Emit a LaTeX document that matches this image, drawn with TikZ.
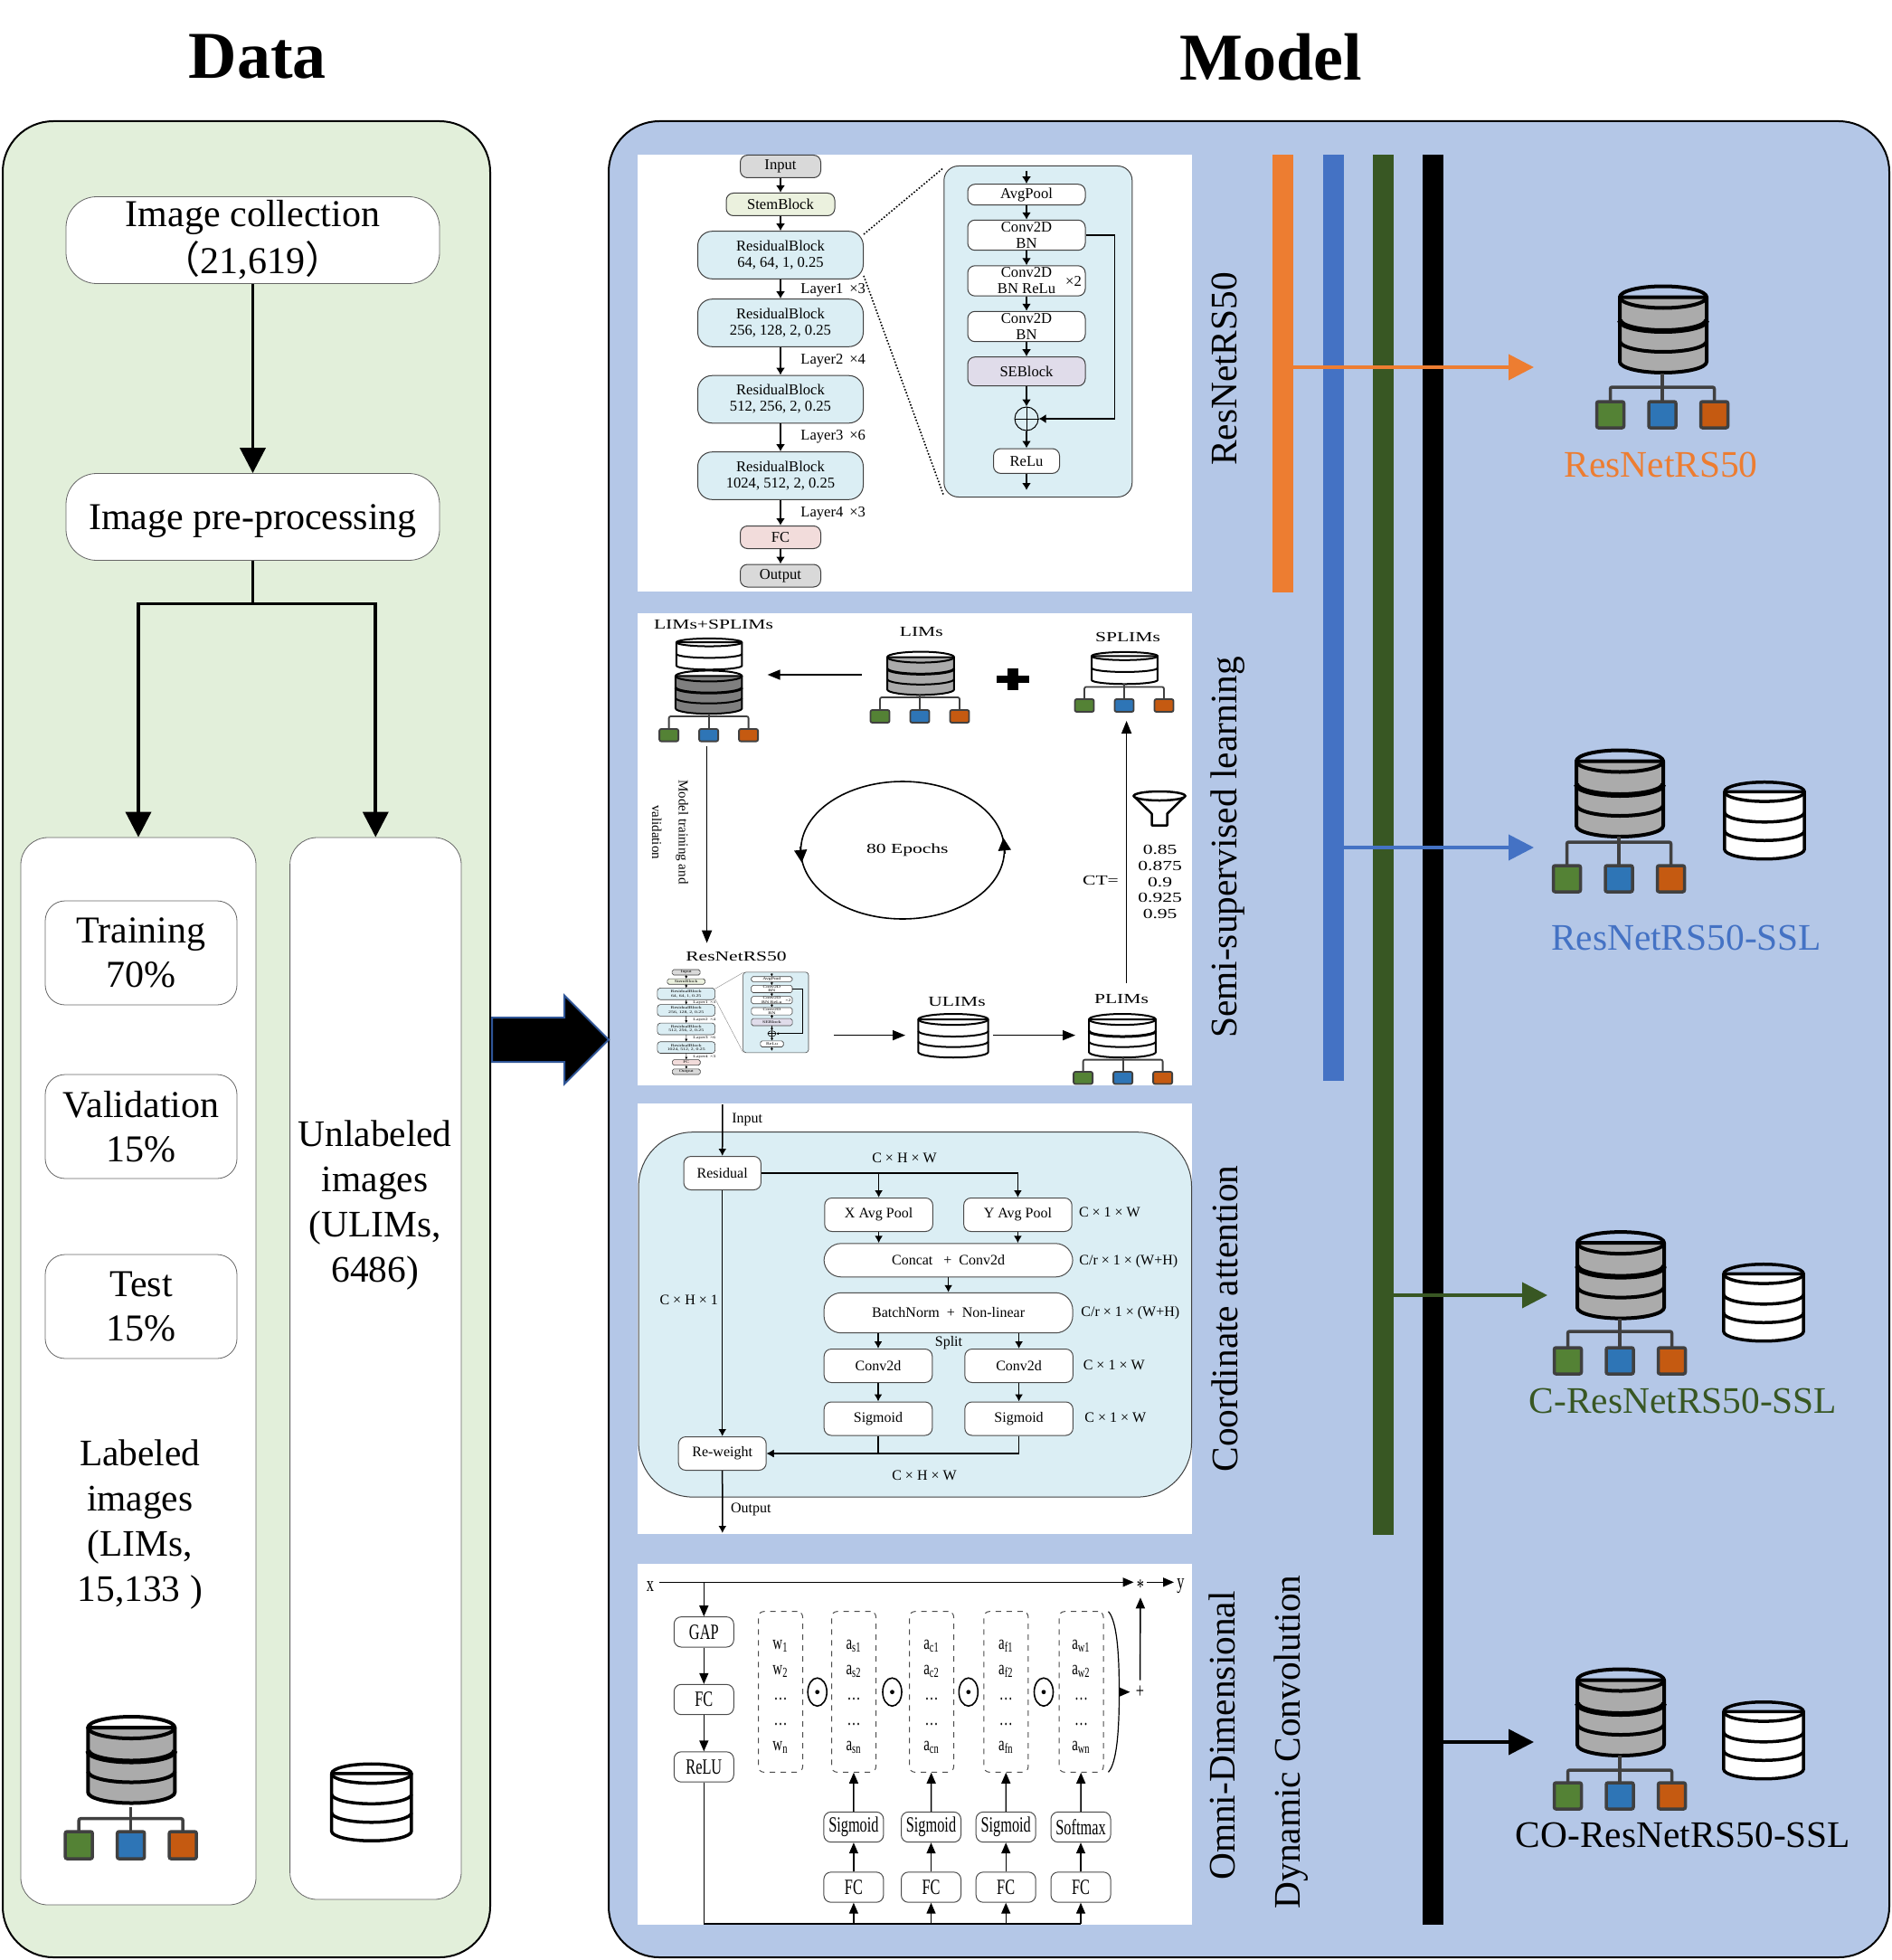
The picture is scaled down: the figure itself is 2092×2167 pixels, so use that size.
\documentclass[tikz,border=0pt]{standalone}
\usepackage{fontspec}
\setmainfont{Liberation Serif}
\newfontfamily\cjk{Noto Sans CJK SC}
\newfontfamily\widefont[FakeStretch=1.4]{Liberation Serif}
\newfontfamily\thinfont[FakeStretch=0.68]{Liberation Serif}
\usetikzlibrary{arrows.meta,positioning,shapes.geometric,shapes.arrows}
\definecolor{datagreen}{HTML}{E2EFDA}
\definecolor{modelblue}{HTML}{B4C7E7}
\definecolor{barorange}{HTML}{ED7D31}
\definecolor{barblue}{HTML}{4472C4}
\definecolor{bargreen}{HTML}{385723}
\definecolor{bigblue}{HTML}{2F5597}
\definecolor{dbgray}{HTML}{ABABAB}
\definecolor{dbdark}{HTML}{7F7F7F}
\definecolor{treegray}{HTML}{404040}
\definecolor{leafgreen}{HTML}{548235}
\definecolor{leafblue}{HTML}{2E75B6}
\definecolor{leaforange}{HTML}{C55A11}
\definecolor{insetblue}{HTML}{DBEEF4}
\definecolor{stemgreen}{HTML}{EBF1DE}
\definecolor{fcpink}{HTML}{F2DCDB}
\definecolor{sepurple}{HTML}{E0DCEA}
\definecolor{blockgray}{HTML}{D9D9D9}

% stacked disks: x, y, xscale, yscale, fill, line width, band/weight list
\newcommand{\dbbody}[7]{%
\begin{scope}[shift={(#1,#2)},xscale=#3,yscale=#4,line width=#6,line join=round]
\draw[fill=#5] (-48,-35.5) -- (-48,36) .. controls (-48,42.6) and (-26.5,48) .. (0,48) .. controls (26.5,48) and (48,42.6) .. (48,36) -- (48,-35.5) -- cycle;
\draw (0,-35.5) ellipse [x radius=48,y radius=12];
\foreach \band/\weight in {#7} {\draw[line width=\weight*#6] (-48,\band) .. controls (-48,\band+6.6) and (-26.5,\band+12) .. (0,\band+12) .. controls (26.5,\band+12) and (48,\band+6.6) .. (48,\band);}
\end{scope}}
% three leaves: x, stem top, bar, leaf top, leaf bottom, spread, leaf half width, line width
\newcommand{\dbtree}[8]{%
\begin{scope}[shift={(#1,0)},line width=#8,draw=treegray]
\draw (0,#2) -- (0,#4);
\draw[rounded corners=1pt] (-#6,#4) -- (-#6,#3) -- (#6,#3) -- (#6,#4);
\draw[fill=leafgreen,rounded corners=1pt] (-#6-#7,#4) rectangle (-#6+#7,#5);
\draw[fill=leafblue,rounded corners=1pt] (-#7,#4) rectangle (#7,#5);
\draw[fill=leaforange,rounded corners=1pt] (#6-#7,#4) rectangle (#6+#7,#5);
\end{scope}}
\newcommand{\bigcorner}{8pt}
\newcommand{\smallcorner}{4pt}
\newcommand{\netline}{0.5pt}
\newcommand{\toprow}{\rule{0pt}{10.5pt}}
% backbone blocks, drawn large in the first box and small in the second
\newcommand{\resnetparts}{%
\node[netbox,fill=blockgray,minimum width=44.5pt,minimum height=12.5pt] (input) at (863,184) {Input};
\node[netbox,fill=stemgreen,minimum width=60pt,minimum height=12.5pt,below=21pt of input] (stem) {StemBlock};
\node[resbox,below=28pt of stem] (resA) {ResidualBlock\\64, 64, 1, 0.25};
\node[resbox,below=37.5pt of resA] (resB) {ResidualBlock\\256, 128, 2, 0.25};
\node[resbox,below=42.25pt of resB] (resC) {ResidualBlock\\512, 256, 2, 0.25};
\node[resbox,below=42.25pt of resC] (resD) {ResidualBlock\\1024, 512, 2, 0.25};
\node[netbox,fill=fcpink,minimum width=44.5pt,minimum height=12.5pt,below=34pt of resD] (fc) {FC};
\node[netbox,fill=blockgray,minimum width=44.5pt,minimum height=12.5pt,below=21.25pt of fc] (output) {Output};
\node[netbox,fill=insetblue,rounded corners=\bigcorner,minimum width=104pt,minimum height=183pt] (inset) at (1147.8,366.5) {};
\node[netbox,fill=white,minimum width=65pt,minimum height=11.5pt] (avgpool) at (1135,215.2) {AvgPool};
\node[netbox,fill=white,minimum width=65pt,minimum height=16.7pt,below=22.4pt of avgpool] (convA) {Conv2D\\BN};
\node[netbox,fill=white,minimum width=65pt,minimum height=16.7pt,below=25.25pt of convA] (convB) {Conv2D\\BN ReLu};
\node[netbox,fill=white,minimum width=65pt,minimum height=16.7pt,below=25.25pt of convB] (convC) {Conv2D\\BN};
\node[netbox,fill=sepurple,minimum width=65pt,minimum height=16pt,below=24.85pt of convC] (seblock) {SEBlock};
\node[draw,circle,line width=\netline,minimum size=13pt,inner sep=0pt,below=26.15pt of seblock] (plus) {};
\node[netbox,fill=white,minimum width=36.5pt,minimum height=13.7pt,below=23.35pt of plus] (relu) {ReLu};
\node[layertext,anchor=west] (layerA) at (885,321) {Layer1 \,×3};
\node[layertext,anchor=west] (layerB) at (885,399) {Layer2 \,×4};
\node[layertext,anchor=west] (layerC) at (885,483) {Layer3 \,×6};
\node[layertext,anchor=west] (layerD) at (885,568) {Layer4 \,×3};
\node[layertext] (times) at (1187,311) {×2};
\coordinate (insettop) at (1135,189);
\coordinate (insetend) at (1135,542);
\draw[flowone] (input) -- (stem);
\draw[flowone] (stem) -- (resA);
\draw[flowone] (resA) -- (resB);
\draw[flowone] (resB) -- (resC);
\draw[flowone] (resC) -- (resD);
\draw[flowone] (resD) -- (fc);
\draw[flowone] (fc) -- (output);
\draw[insetlink] (resA.14) -- (inset.120);
\draw[insetlink] (resA.-14) -- (inset.240);
\draw[flowone] (insettop) -- (avgpool);
\draw[flowone] (avgpool) -- (convA);
\draw[flowone] (convA) -- (convB);
\draw[flowone] (convB) -- (convC);
\draw[flowone] (convC) -- (seblock);
\draw[flowone] (seblock) -- (plus);
\draw[flowone] (plus) -- (relu);
\draw[flowone] (relu) -- (insetend);
\draw[flowone] (convA.east) -- ++(16pt,0) |- (plus.east);
\draw[line width=\netline] (plus.north) -- (plus.south);
\draw[line width=\netline] (plus.west) -- (plus.east);
}

\begin{document}
\begin{tikzpicture}[x=0.5pt,y=-0.5pt,on grid,
panel/.style={draw,line width=1pt,rounded corners=28pt,inner sep=0pt},
sheet/.style={fill=white,inner sep=0pt,minimum width=306.5pt},
title/.style={font=\fontsize{37}{40}\selectfont\bfseries},
stagebox/.style={draw=black!60,fill=white,rounded corners=17pt,align=center,inner sep=0pt,minimum width=206.5pt,minimum height=48pt,font=\fontsize{21}{26}\selectfont},
splitbox/.style={draw=black!60,fill=white,rounded corners=11pt,align=center,inner sep=0pt,minimum width=106pt,minimum height=57.5pt,font=\fontsize{21}{24.5}\selectfont},
groupbox/.style={draw=black!60,fill=white,rounded corners=15pt,inner sep=0pt},
grouptext/.style={align=center,font=\fontsize{20.7}{25}\selectfont},
mainflow/.style={-{Triangle[length=14pt,width=14pt]},line width=1.9pt},
plainflow/.style={line width=1.9pt},
barbox/.style={inner sep=0pt,minimum width=11.5pt},
outname/.style={font=\fontsize{20.7}{24}\selectfont},
sidename/.style={rotate=90,font=\fontsize{20.7}{24}\selectfont},
netbox/.style={draw=black!75,line width=\netline,rounded corners=\smallcorner,align=center,inner sep=0pt,font=\fontsize{8.3}{9}\selectfont},
resbox/.style={netbox,fill=insetblue,rounded corners=\bigcorner,minimum width=91.5pt,minimum height=26.3pt},
layertext/.style={inner sep=0pt,font=\fontsize{8.3}{9}\selectfont},
flowone/.style={-{Latex[length=4pt,width=5pt]},line width=0.9pt},
insetlink/.style={densely dotted,line width=0.8pt},
wide/.style={font=\fontsize{7.7}{8.8}\selectfont\widefont},
flowtwo/.style={-{Triangle[length=7pt,width=5.5pt]},line width=0.8pt},
paper/.style={inner sep=0pt,font=\fontsize{8}{10}\selectfont},
coordbox/.style={draw=black!70,line width=0.5pt,fill=white,rounded corners=4pt,inner sep=0pt,minimum width=59.8pt,minimum height=18.5pt,font=\fontsize{8}{10}\selectfont},
pillbox/.style={coordbox,rounded corners=9.5pt,minimum width=137.5pt},
flowthree/.style={-{Latex[length=4pt,width=4.5pt]},line width=0.75pt},
omnibox/.style={draw=black!70,line width=0.5pt,fill=white,rounded corners=4pt,inner sep=0pt,minimum width=33pt,minimum height=16.7pt,font=\fontsize{12}{14}\selectfont\thinfont},
omnicol/.style={draw=black!70,line width=0.5pt,dashed,rounded corners=3pt,inner sep=0pt,minimum width=24.5pt,minimum height=88.8pt,align=center,font=\fontsize{11}{14}\selectfont\thinfont},
omnitext/.style={inner sep=1.5pt,font=\fontsize{12}{14}\selectfont\thinfont},
odot/.style={draw,ellipse,line width=0.8pt,inner sep=0pt,minimum width=10.5pt,minimum height=15.5pt},
flowfour/.style={-{Triangle[length=6pt,width=5pt]},line width=0.7pt}
]
\useasboundingbox (0,0) rectangle (2092,2167);

% titles and panels
\node[title] (datatitle) at (284.7,63) {Data};
\node[title] (modeltitle) at (1405.6,63) {Model};
\node[panel,fill=datagreen,minimum width=269.5pt,minimum height=1015pt] (datapanel) at (272.5,1149) {};
\node[panel,fill=modelblue,minimum width=708pt,minimum height=1015pt] (modelpanel) at (1381,1149) {};
\node[single arrow,draw=bigblue,fill=black,line width=1pt,inner xsep=0pt,inner ysep=11.75pt,minimum height=64.5pt,single arrow head extend=12.25pt,single arrow tip angle=90,anchor=tail] (bigarrow) at (543,1149.5) {};

% data side
\node[stagebox] (collection) at (279.5,265.5) {Image collection\\{\cjk （}21,619{\cjk ）}};
\node[stagebox,text depth=0pt,below=153pt of collection] (preproc) {Image pre-processing};
\node[groupbox,minimum width=130pt,minimum height=590pt] (labeled) at (153,1516) {};
\node[groupbox,minimum width=94.7pt,minimum height=587pt] (unlabeled) at (415.3,1513) {};
\coordinate (split) at (279.5,667.5);
\draw[mainflow] (collection) -- (preproc);
\draw[plainflow] (preproc) -- (split);
\draw[mainflow] (split) -| (labeled.north);
\draw[mainflow] (split) -| (unlabeled.north);
\node[splitbox] (training) at (156,1053.5) {Training\\70\%};
\node[splitbox,below=96pt of training] (validation) {Validation\\15\%};
\node[splitbox,below=99.5pt of validation] (testing) {Test\\15\%};
\node[grouptext] (labeledtext) at (154.8,1686) {Labeled\\images\\(LIMs,\\15,133 )};
\node[grouptext] (unlabeledtext) at (414.6,1333) {Unlabeled\\images\\(ULIMs,\\6486)};
\dbbody{145.3}{1945.5}{1}{1}{dbgray}{2pt}{-10/1.5,13/1}
\dbtree{144.7}{1998}{2010.7}{2025}{2055}{57.5}{15}{1.75pt}
\dbbody{410.8}{1992.5}{0.92}{0.89}{white}{1.75pt}{-10/1,13/1}

% white sheets
\node[sheet,minimum height=241.5pt] (sheetA) at (1011.5,412.5) {};
\node[sheet,minimum height=260.75pt] (sheetB) at (1011.5,938.75) {};
\node[sheet,minimum height=238pt] (sheetC) at (1011.5,1458) {};
\node[sheet,minimum height=199.5pt] (sheetD) at (1011.5,1928.5) {};

% backbone sheet
\resnetparts

% pseudo label sheet
\node[wide] (mixlabel) at (789,690.5) {LIMs+SPLIMs};
\dbbody{784.2}{723}{0.755}{0.36}{white}{1pt}{0/1}
\dbbody{783.7}{765.2}{0.765}{0.5}{dbdark}{1pt}{-10/1.5,13/1}
\dbtree{783.6}{789}{792}{806}{819.6}{44}{10.5}{0.9pt}
\node[wide] (limslabel) at (1018.8,698.6) {LIMs};
\dbbody{1018}{744.3}{0.77}{0.5}{dbgray}{1pt}{-10/1.5,13/1}
\dbtree{1017}{768}{771}{785}{799}{44}{10.5}{0.9pt}
\fill (1102,746.6) rectangle (1138,754.7);
\fill (1114,738.5) rectangle (1126,763);
\node[wide] (splimslabel) at (1247,704) {SPLIMs};
\dbbody{1243.5}{738.5}{0.76}{0.37}{white}{1pt}{0/1}
\dbtree{1243}{756}{759.5}{773}{787}{44}{10.5}{0.9pt}
\coordinate (limsout) at (953,746);
\coordinate (mixin) at (848.6,746);
\draw[flowtwo] (limsout) -- (mixin);
\coordinate (mixout) at (781.6,825);
\coordinate (netin) at (781.6,1042.6);
\draw[flowtwo] (mixout) -- (netin);
\node[rotate=-90,align=center,inner sep=0pt,font=\fontsize{7.5}{14.8}\selectfont] (trainlabel) at (741,920) {Model training and\\validation};
\node[draw,ellipse,line width=0.8pt,inner sep=0pt,minimum width=112.5pt,minimum height=76pt,wide] (epochs) at (998,940) {\ \ 80 Epochs};
\draw[-{Triangle[length=7pt,width=7pt]},line width=0.8pt] (epochs.178) -- (epochs.187);
\draw[-{Triangle[length=7pt,width=7pt]},line width=0.8pt] (epochs.358) -- (epochs.7);
\node[wide] (netlabel) at (814,1057) {ResNetRS50};
% thumbnail of the backbone
\begin{scope}[name prefix=mini-,transform shape,shift={(727,1072)},xscale=0.348,yscale=0.243,shift={(-772,-171.7)},
flowone/.style={-{Latex[length=1.5pt,width=1.5pt]},line width=0.3pt},
insetlink/.style={draw=black!40,line width=0.25pt}]
\renewcommand{\bigcorner}{1.6pt}
\renewcommand{\smallcorner}{0.9pt}
\renewcommand{\netline}{0.3pt}
\resnetparts
\end{scope}
\node[wide] (ulimslabel) at (1058,1108) {ULIMs};
\dbbody{1054}{1145}{0.805}{0.505}{white}{1pt}{-10/1,13/1}
\node[wide] (plimslabel) at (1240,1105) {PLIMs};
\dbbody{1241}{1145}{0.77}{0.505}{white}{1pt}{-10/1.5,13/1}
\dbtree{1241.6}{1169}{1171.6}{1185}{1198.5}{44}{10.5}{0.9pt}
\coordinate (netout) at (921.8,1144.6);
\coordinate (ulimsin) at (1001,1144.6);
\coordinate (ulimsout) at (1097.8,1144.6);
\coordinate (plimsin) at (1189,1144.6);
\coordinate (plimsout) at (1245.6,1086.5);
\coordinate (splimsin) at (1245.6,797);
\draw[flowtwo] (netout) -- (ulimsin);
\draw[flowtwo] (ulimsout) -- (plimsin);
\draw[flowtwo] (plimsout) -- (splimsin);
\draw[fill=white,line width=1.25pt,line join=round] (1253.6,880) -- (1273.5,899.7) -- (1273.5,912.5) -- (1290.5,912.5) -- (1290.5,899.7) -- (1310.5,880);
\draw[fill=white,line width=1.25pt] (1282,880) ellipse [x radius=28.5,y radius=5];
\node[wide] (ctlabel) at (1217,973) {CT=};
\node[wide,align=center] (ctvalues) at (1282.6,975) {0.85\\0.875\\0.9\\0.925\\0.95};

% coordinate attention sheet
\node[draw=black!75,line width=0.5pt,fill=insetblue,rounded corners=30pt,inner sep=0pt,minimum width=305.7pt,minimum height=201.7pt] (attention) at (1011.8,1453.4) {};
\node[coordbox,minimum width=42.7pt] (residual) at (798.7,1297) {Residual};
\node[coordbox,minimum width=48.5pt,below=155pt of residual] (reweight) {Re-weight};
\node[coordbox] (xpool) at (971.6,1343) {X Avg Pool};
\node[coordbox,right=76.9pt of xpool] (ypool) {Y Avg Pool};
\node[pillbox] (concat) at (1048.6,1393.3) {Concat \ \ + \ Conv2d};
\node[pillbox,minimum height=22.2pt,below=29.1pt of concat] (batch) {BatchNorm \ + \ Non-linear};
\node[coordbox] (convL) at (971,1510) {Conv2d};
\node[coordbox,right=77.8pt of convL] (convR) {Conv2d};
\node[coordbox,below=29.25pt of convL] (sigL) {Sigmoid};
\node[coordbox,below=29.25pt of convR] (sigR) {Sigmoid};
\node[paper,anchor=west] (inlabel) at (809,1238) {Input};
\node[paper,anchor=west] (outlabel) at (807.7,1669) {Output};
\node[paper] (chwtop) at (1000,1280) {C × H × W};
\node[paper] (chleft) at (761.7,1437) {C × H × 1};
\node[paper,anchor=west] (cwA) at (1192.6,1340.3) {C × 1 × W};
\node[paper,anchor=west] (crA) at (1193,1395) {C/r × 1 × (W+H)};
\node[paper,anchor=west] (crB) at (1195,1452) {C/r × 1 × (W+H)};
\node[paper] (splitlabel) at (1049,1485) {Split};
\node[paper,anchor=west] (cwB) at (1197.4,1509) {C × 1 × W};
\node[paper,anchor=west] (cwC) at (1199,1567) {C × 1 × W};
\node[paper] (chwbot) at (1022,1631) {C × H × W};
\coordinate (attin) at (798.8,1221);
\coordinate (attout) at (798.8,1695);
\draw[flowthree] (attin) -- (residual);
\draw[flowthree] (residual) -- (reweight);
\draw[flowthree] (reweight) -- (attout);
\draw[flowthree] (residual.east) -| (xpool.north);
\draw[flowthree] (residual.east) -| (ypool.north);
\draw[flowthree] (xpool.south) -- (xpool.south |- concat.north);
\draw[flowthree] (ypool.south) -- (ypool.south |- concat.north);
\draw[flowthree] (concat) -- (batch);
\draw[flowthree] (convL.north |- batch.south) -- (convL.north);
\draw[flowthree] (convR.north |- batch.south) -- (convR.north);
\draw[flowthree] (convL) -- (sigL);
\draw[flowthree] (convR) -- (sigR);
\draw[flowthree] (sigL.south) |- (reweight.east);
\draw[flowthree] (sigR.south) |- (reweight.east);

% omni dimensional sheet
\node[omnitext,inner sep=3pt] (xin) at (719,1754) {x};
\node[omnitext] (star) at (1261,1755) {*};
\node[omnitext] (yout) at (1305.5,1754) {y};
\node[omnitext,inner sep=3pt] (sum) at (1260.5,1870.7) {+};
\node[omnibox] (gap) at (778.3,1804.3) {GAP};
\node[omnibox,below=37.35pt of gap] (fcA) {FC};
\node[omnibox,below=37.25pt of fcA] (rel) {ReLU};
\node[omnicol] (colW) at (863,1870.5) {\toprow w\textsubscript{1}\\w\textsubscript{2}\\…\\…\\w\textsubscript{n}};
\node[omnicol] (colS) at (944,1870.5) {\toprow a\textsubscript{s1}\\a\textsubscript{s2}\\…\\…\\a\textsubscript{sn}};
\node[omnicol] (colC) at (1030,1870.5) {\toprow a\textsubscript{c1}\\a\textsubscript{c2}\\…\\…\\a\textsubscript{cn}};
\node[omnicol] (colF) at (1112.4,1870.5) {\toprow a\textsubscript{f1}\\a\textsubscript{f2}\\…\\…\\a\textsubscript{fn}};
\node[omnicol] (colO) at (1195.5,1870.5) {\toprow a\textsubscript{w1}\\a\textsubscript{w2}\\…\\…\\a\textsubscript{wn}};
\node[odot] (dotA) at (903.7,1870.7) {};
\node[odot] (dotB) at (986.5,1870.7) {};
\node[odot] (dotC) at (1070.8,1870.7) {};
\node[odot] (dotD) at (1154,1870.7) {};
\fill (dotA) circle (1.2pt);
\fill (dotB) circle (1.2pt);
\fill (dotC) circle (1.2pt);
\fill (dotD) circle (1.2pt);
\node[omnibox] (sigA) at (943.9,2020) {Sigmoid};
\node[omnibox] (sigB) at (1029.5,2020) {Sigmoid};
\node[omnibox] (sigC) at (1112.2,2020) {Sigmoid};
\node[omnibox] (softmax) at (1195,2020) {Softmax};
\node[omnibox,below=33.25pt of sigA] (fcS) {FC};
\node[omnibox,below=33.25pt of sigB] (fcC) {FC};
\node[omnibox,below=33.25pt of sigC] (fcF) {FC};
\node[omnibox,below=33.25pt of softmax] (fcO) {FC};
\coordinate (topline) at (1252.5,1749.3);
\coordinate (bus) at (1195,2127);
\coordinate (parenmid) at (1237.5,1870.7);
\coordinate (xdrop) at (778.3,1749.3);
\draw[flowfour] (xin.east |- topline) -- (star.west |- topline);
\draw[flowfour] (star.east |- topline) -- (yout.west |- topline);
\draw[flowfour] (sum) -- (star);
\draw[flowfour] (parenmid) -- (sum);
\draw[flowfour] (xdrop) -- (gap);
\draw[flowfour] (gap) -- (fcA);
\draw[flowfour] (fcA) -- (rel);
\draw[line width=0.7pt] (rel.south) |- (bus);
\draw[flowfour] (fcS.south |- bus) -- (fcS);
\draw[flowfour] (fcC.south |- bus) -- (fcC);
\draw[flowfour] (fcF.south |- bus) -- (fcF);
\draw[flowfour] (fcO.south |- bus) -- (fcO);
\draw[flowfour] (fcS) -- (sigA);
\draw[flowfour] (fcC) -- (sigB);
\draw[flowfour] (fcF) -- (sigC);
\draw[flowfour] (fcO) -- (softmax);
\draw[flowfour] (sigA) -- (colS);
\draw[flowfour] (sigB) -- (colC);
\draw[flowfour] (sigC) -- (colF);
\draw[flowfour] (softmax) -- (colO);
\draw[line width=0.6pt] (1225.5,1781.7) .. controls (1233,1790) and (1237.5,1815) .. (parenmid) .. controls (1237.5,1926) and (1233,1951) .. (1225.5,1959.3);

% sheet names
\node[sidename] (nameA) at (1354,408) {ResNetRS50};
\node[sidename] (nameB) at (1358,937) {Semi-supervised learning};
\node[sidename] (nameC) at (1354,1458) {Coordinate attention};
\node[sidename] (nameD) at (1351,1919) {Omni-Dimensional};
\node[sidename] (nameE) at (1428,1926) {Dynamic Convolution};

% bars and results
\node[barbox,fill=barorange,minimum height=242pt] (orangebar) at (1418.5,413) {};
\node[barbox,fill=barblue,minimum height=512pt] (bluebar) at (1474,683) {};
\node[barbox,fill=bargreen,minimum height=763pt] (greenbar) at (1529,934) {};
\node[barbox,fill=black,minimum height=978.5pt] (blackbar) at (1584.5,1149.5) {};
\coordinate (orangeend) at (1696,406);
\coordinate (blueend) at (1696,937);
\coordinate (greenend) at (1711,1432);
\coordinate (blackend) at (1696,1926);
\draw[mainflow,draw=barorange,-{Triangle[length=14pt,width=14pt,fill=barorange]}] (orangebar.east |- orangeend) -- (orangeend);
\draw[mainflow,draw=barblue,-{Triangle[length=14pt,width=14pt,fill=barblue]}] (bluebar.east |- blueend) -- (blueend);
\draw[mainflow,draw=bargreen,-{Triangle[length=14pt,width=14pt,fill=bargreen]}] (greenbar.east |- greenend) -- (greenend);
\draw[mainflow] (blackbar.east |- blackend) -- (blackend);

\dbbody{1839}{364}{1}{1}{dbgray}{2pt}{-10/1.5,13/1}
\dbtree{1838}{413}{428}{444}{473}{57.5}{15}{1.75pt}
\node[outname,text=barorange] (resultA) at (1836.6,514) {ResNetRS50};
\dbbody{1791}{877}{1}{1}{dbgray}{2pt}{-10/1.5,13/1}
\dbtree{1790}{925}{931}{957}{986}{57.5}{15}{1.75pt}
\dbbody{1951}{907}{0.92}{0.89}{white}{1.75pt}{-10/1,13/1}
\node[outname,text=barblue] (resultB) at (1864.6,1037) {ResNetRS50-SSL};
\dbbody{1792}{1409.6}{1}{1}{dbgray}{2pt}{-10/1.5,13/1}
\dbtree{1791}{1458}{1472}{1490}{1519}{57.5}{15}{1.75pt}
\dbbody{1950}{1440}{0.92}{0.89}{white}{1.75pt}{-10/1,13/1}
\node[outname,text=bargreen] (resultC) at (1861,1549) {C-ResNetRS50-SSL};
\dbbody{1792}{1893}{1}{1}{dbgray}{2pt}{-10/1.5,13/1}
\dbtree{1791}{1941}{1957}{1971}{2000}{57.5}{15}{1.75pt}
\dbbody{1950}{1924}{0.92}{0.89}{white}{1.75pt}{-10/1,13/1}
\node[outname] (resultD) at (1861,2029) {CO-ResNetRS50-SSL};
\end{tikzpicture}
\end{document}
